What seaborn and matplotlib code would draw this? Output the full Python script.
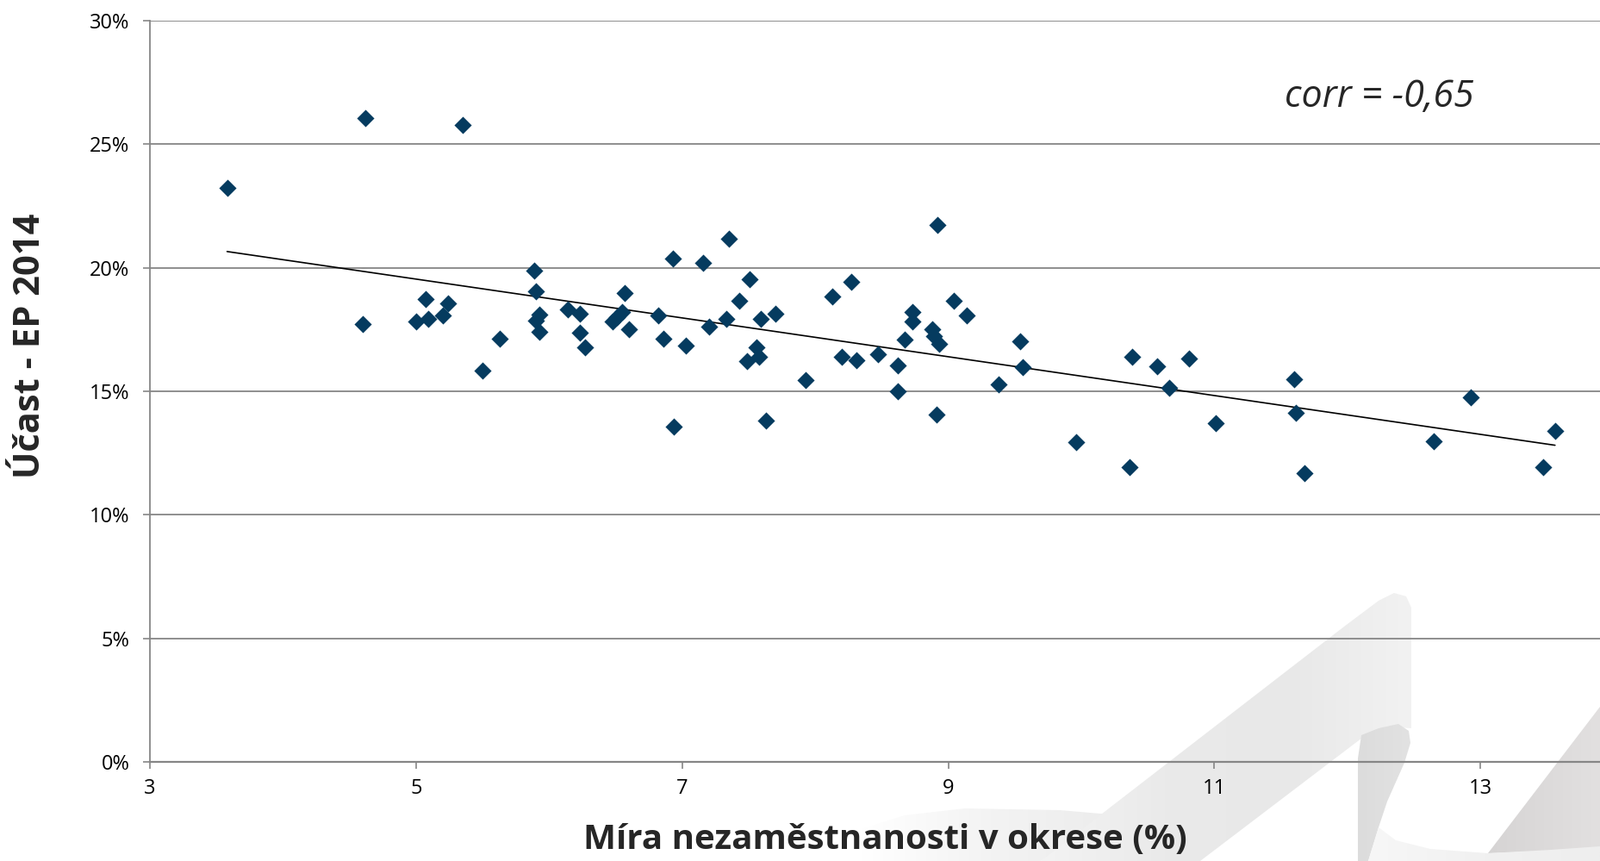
import numpy as np
import matplotlib
matplotlib.use('Agg')
import matplotlib.pyplot as plt
import matplotlib.patches as mpatches
from matplotlib.colors import LinearSegmentedColormap
from matplotlib.ticker import PercentFormatter, MultipleLocator
import seaborn as sns
import pandas as pd

sns.set_theme(style='white')
plt.rcParams['font.family'] = ['Open Sans', 'DejaVu Sans']

# unemployment rate in district (%)
unemployment = [
    3.58, 4.62, 5.35, 4.60, 5.07, 5.00, 5.09, 5.20, 5.24, 5.50,
    5.63, 5.89, 5.90, 5.93, 5.90, 5.93, 6.14, 6.23, 6.23, 6.27,
    6.57, 6.55, 6.51, 6.48, 6.60, 6.82, 6.86, 6.93, 6.94, 7.03,
    7.16, 7.20, 7.33, 7.35, 7.43, 7.51, 7.59, 7.70, 7.56, 7.58,
    7.49, 7.63, 7.93, 8.13, 8.27, 8.20, 8.31, 8.47, 8.62, 8.62,
    8.67, 8.73, 8.73, 8.88, 8.89, 8.93, 8.92, 8.91, 9.04, 9.14,
    9.38, 9.54, 9.56, 9.96, 10.38, 10.36, 10.57, 10.66, 10.81, 11.01,
    11.60, 11.61, 11.68, 12.65, 12.93, 13.47, 13.56,
]

# turnout, EP elections 2014 (%)
turnout = [
    23.25, 26.07, 25.78, 17.73, 18.72, 17.84, 17.93, 18.08, 18.55, 15.84,
    17.14, 19.90, 19.04, 18.10, 17.87, 17.40, 18.30, 18.13, 17.38, 16.79,
    18.97, 18.20, 18.00, 17.81, 17.52, 18.07, 17.12, 20.36, 13.57, 16.84,
    20.21, 17.61, 17.92, 21.16, 18.66, 19.54, 17.93, 18.14, 16.79, 16.40,
    16.22, 13.82, 15.44, 18.85, 19.44, 16.38, 16.24, 16.51, 16.06, 14.99,
    17.10, 17.83, 18.20, 17.52, 17.23, 16.91, 21.73, 14.06, 18.67, 18.06,
    15.28, 17.03, 15.96, 12.94, 16.38, 11.93, 16.00, 15.14, 16.31, 13.72,
    15.48, 14.14, 11.67, 12.96, 14.75, 11.92, 13.40,
]

x_ticks = [3, 5, 7, 9, 11, 13]
corr_label = 'corr = -0,65'

df = pd.DataFrame({'nezam': unemployment, 'ucast': turnout})

W, H = 1857, 999
fig = plt.figure(figsize=(W / 100, H / 100), dpi=100)

# light grey logo watermark in the background, drawn in page pixels
bg = fig.add_axes([0, 0, 1, 1], zorder=-1)
bg.set_xlim(0, W)
bg.set_ylim(H, 0)
bg.axis('off')

def swoosh(points, colors, x0, x1):
    poly = mpatches.Polygon(points, closed=True, facecolor='none', edgecolor='none')
    bg.add_patch(poly)
    cmap = LinearSegmentedColormap.from_list('g', colors)
    grad = np.linspace(0, 1, 256).reshape(1, -1)
    im = bg.imshow(grad, cmap=cmap, extent=[x0, x1, H, 600], aspect='auto',
                   interpolation='bilinear')
    im.set_clip_path(poly)

swoosh([(1000, 999), (1000, 962), (1050, 946), (1120, 938), (1230, 940), (1300, 946),
        (1208, 999)], ['#ffffff', '#f3f3f3', '#ececec'], 1000, 1300)
swoosh([(1208, 999), (1560, 727), (1600, 697), (1618, 688), (1632, 692), (1638, 705),
        (1638, 845), (1610, 843), (1585, 853), (1393, 999)],
       ['#f3f3f3', '#eaeaea', '#e8e8e8', '#f2f2f2'], 1208, 1638)
swoosh([(1576, 999), (1576, 880), (1580, 853), (1600, 845), (1623, 840), (1635, 848),
        (1637, 862), (1630, 885), (1610, 930), (1600, 960), (1588, 999)],
       ['#dcdcdc', '#e2e2e2'], 1576, 1637)
swoosh([(1727, 990), (1857, 820), (1857, 985)], ['#d6d4d4', '#e2e0e0'], 1727, 1857)
swoosh([(1600, 960), (1620, 975), (1660, 985), (1727, 990), (1800, 986), (1857, 982),
        (1857, 999), (1588, 999)], ['#f7f7f7', '#f1f1f1', '#eeeeee'], 1588, 1857)

ax = fig.add_axes([174 / W, 1 - 884 / H, 1 - 174 / W, 860 / H])
ax.set_facecolor('none')

grid_col = '#868686'

sns.regplot(data=df, x='nezam', y='ucast', ax=ax, scatter=False, ci=None, truncate=True,
            line_kws=dict(color='black', lw=1.2, zorder=3))
sns.scatterplot(data=df, x='nezam', y='ucast', ax=ax, marker='D', s=105,
                color='#053B5F', linewidth=0, zorder=4)

ax.set_xlim(3, 3 + (W - 174) / 154.43)
ax.set_ylim(0, 30)
ax.set_xticks(x_ticks)
ax.yaxis.set_major_locator(MultipleLocator(5))
ax.yaxis.set_major_formatter(PercentFormatter(xmax=100, decimals=0))

ax.grid(axis='y', color=grid_col, lw=1.3, zorder=1)
ax.grid(axis='x', visible=False)
for side in ['top', 'right']:
    ax.spines[side].set_visible(False)
ax.spines['left'].set_color(grid_col)
ax.spines['left'].set_linewidth(1.3)
ax.spines['bottom'].set_color(grid_col)
ax.spines['bottom'].set_linewidth(1.6)

ax.tick_params(axis='both', colors=grid_col, labelcolor='black', labelsize=17,
               length=6, width=1.2, direction='out')
ax.tick_params(axis='y', pad=11, left=True)
ax.tick_params(axis='x', pad=8, bottom=True)

ax.set_xlabel('Míra nezaměstnanosti v okrese (%)', fontsize=29, fontweight='bold',
              va='baseline')
ax.xaxis.set_label_coords((1027 - 174) / (W - 174), -(985 - 884) / 860)
ax.set_ylabel('Účast - EP 2014', fontsize=30, fontweight='bold', va='center', ha='center')
ax.yaxis.set_label_coords((36 - 174) / (W - 174), (884 - 401) / 860)

ax.text((1601 - 174) / (W - 174), (884 - 113) / 860, corr_label, transform=ax.transAxes,
        fontsize=31, fontstyle='italic', ha='center', va='center')

fig.savefig('out.png', dpi=100)
